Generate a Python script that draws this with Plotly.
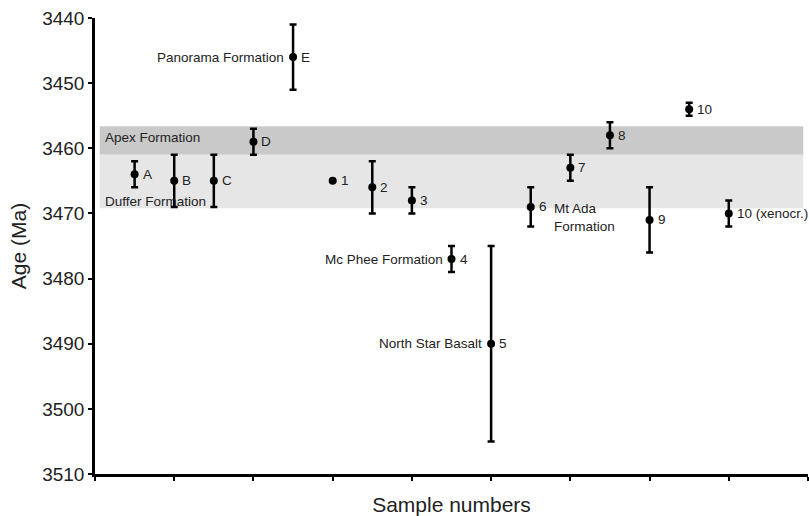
import plotly.graph_objects as go

# ---- data ----
sample_labels = ["A", "B", "C", "D", "E", "1", "2", "3", "4", "5", "6", "7", "8", "9", "10", "10 (xenocr.)"]
sample_pos = [0.5, 1.0, 1.5, 2.0, 2.5, 3.0, 3.5, 4.0, 4.5, 5.0, 5.5, 6.0, 6.5, 7.0, 7.5, 8.0]
ages_ma = [3464, 3465, 3465, 3459, 3446, 3465, 3466, 3468, 3477, 3490, 3469, 3463, 3458, 3471, 3454, 3470]
age_err = [2, 4, 4, 2, 5, 0, 4, 2, 2, 15, 3, 2, 2, 5, 1, 2]

# formation bands (age ranges)
band_names = ["Apex Formation", "Duffer Formation"]
band_top = [3456.6, 3461.0]
band_bottom = [3461.0, 3469.2]
band_colors = ["#c9c9c9", "#e6e6e6"]

# left-side formation labels attached to samples
side_label_text = ["Panorama Formation", "Mc Phee Formation", "North Star Basalt"]
side_label_sample = ["E", "4", "5"]

y_ticks = [3440, 3450, 3460, 3470, 3480, 3490, 3500, 3510]

FONT = "Liberation Sans, Arial, Helvetica, sans-serif"
LFS = 13.5

fig = go.Figure()

# bands
for top, bot, col in zip(band_top, band_bottom, band_colors):
    fig.add_shape(type="rect", xref="x", yref="y", x0=0.06, x1=8.94, y0=top, y1=bot,
                  fillcolor=col, line=dict(width=0), layer="below")

fig.add_trace(go.Scatter(
    x=sample_pos, y=ages_ma, mode="markers",
    marker=dict(color="black", size=8),
    error_y=dict(type="data", array=age_err, visible=True, color="black",
                 thickness=2.5, width=3.5),
    showlegend=False, hoverinfo="x+y",
))

# point labels
for lab, x, y in zip(sample_labels, sample_pos, ages_ma):
    fig.add_annotation(x=x, y=y, text=lab, showarrow=False, xanchor="left",
                       yanchor="middle", xshift=6, font=dict(size=LFS, color="#222", family=FONT))

# left-side labels
for txt, s in zip(side_label_text, side_label_sample):
    i = sample_labels.index(s)
    fig.add_annotation(x=sample_pos[i], y=ages_ma[i], text=txt, showarrow=False,
                       xanchor="right", yanchor="middle", xshift=-7,
                       font=dict(size=LFS, color="#222", family=FONT))

# band labels
fig.add_annotation(x=0.1, y=3458.4, text=band_names[0], showarrow=False, xanchor="left",
                   yanchor="middle", font=dict(size=LFS, color="#222", family=FONT))
fig.add_annotation(x=0.1, y=3468.1, text=band_names[1], showarrow=False, xanchor="left",
                   yanchor="middle", font=dict(size=LFS, color="#222", family=FONT))
fig.add_annotation(x=5.77, y=3470.6, text="Mt Ada<br>Formation", showarrow=False, xanchor="left",
                   yanchor="middle", align="left", font=dict(size=LFS, color="#222", family=FONT))

fig.update_layout(
    width=809, height=516,
    margin=dict(l=95, r=1, t=18, b=42),
    paper_bgcolor="white", plot_bgcolor="white",
    font=dict(family=FONT, color="#222"),
    xaxis=dict(range=[0, 9], tickmode="linear", tick0=0, dtick=1, showticklabels=False,
               ticks="outside", ticklen=4, tickwidth=2, tickcolor="black",
               showline=True, linecolor="black", linewidth=2.5, showgrid=False, zeroline=False,
               automargin=False,
               title=dict(text="Sample numbers", font=dict(size=21, color="#222"), standoff=20)),
    yaxis=dict(range=[3510, 3440], tickvals=y_ticks, ticks="outside", ticklen=4, tickwidth=2,
               tickcolor="black", showline=True, linecolor="black", linewidth=2.5,
               showgrid=False, zeroline=False, tickfont=dict(size=19, color="#222"),
               automargin=False,
               title=dict(text="Age (Ma)", font=dict(size=21, color="#222"), standoff=10)),
)

fig.write_html("out.html", config={"displayModeBar": False},
               post_script="document.body.style.margin='0';document.body.style.overflow='hidden';")
